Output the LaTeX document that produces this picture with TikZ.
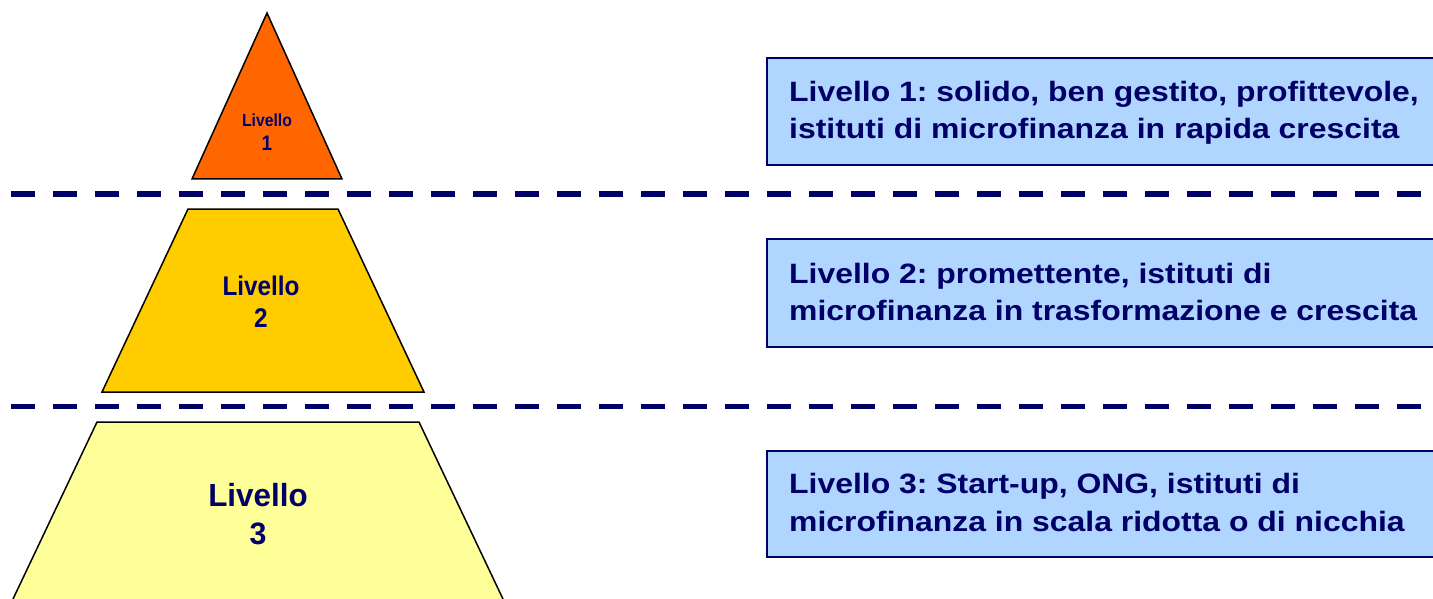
\documentclass[tikz,border=0pt]{standalone}
\usepackage{fontspec}
\newfontfamily\hvnarrow[FakeStretch=0.9]{Liberation Sans}
\newfontfamily\hvplain[FakeStretch=0.98]{Liberation Sans}
\newfontfamily\hvwide[FakeStretch=1.14]{Liberation Sans}
\definecolor{navy}{RGB}{0,0,102}
\definecolor{boxblue}{RGB}{176,214,255}
\definecolor{lvone}{RGB}{255,102,0}
\definecolor{lvtwo}{RGB}{255,204,0}
\definecolor{lvthree}{RGB}{255,255,153}
\tikzset{
  shapeline/.style={draw=black, line width=1.5pt, line join=miter},
  sep/.style={draw=navy, line width=5pt, dash pattern=on 24pt off 18pt},
  infobox/.style={draw=navy, line width=1.5pt, fill=boxblue},
  boxtxt/.style={anchor=base west, inner sep=0pt, text=navy, font=\frenchspacing\hvwide\bfseries\fontsize{28}{34}\selectfont},
  lvtxt/.style={anchor=base, inner sep=0pt, text=navy},
}
\begin{document}
\begin{tikzpicture}[x=1pt,y=-1pt]
\useasboundingbox (0,0) rectangle (1433,599);
% pyramid
\filldraw[shapeline, fill=lvone] (267,13) -- (342,179) -- (192,179) -- cycle;
\filldraw[shapeline, fill=lvtwo] (188,209) -- (338,209) -- (424,392) -- (102,392) -- cycle;
\filldraw[shapeline, fill=lvthree] (97,422) -- (419,422) -- (508.2,610) -- (7.8,610) -- cycle;
\node[lvtxt, font=\hvnarrow\bfseries\fontsize{17.5}{20}\selectfont] (t1a) at (267,127) {Livello};
\node[lvtxt, font=\hvnarrow\bfseries\fontsize{21}{24}\selectfont] (t1b) at (267,151) {1};
\node[lvtxt, font=\hvnarrow\bfseries\fontsize{27}{30}\selectfont] (t2a) at (261,295) {Livello};
\node[lvtxt, font=\hvnarrow\bfseries\fontsize{27}{30}\selectfont] (t2b) at (261,327) {2};
\node[lvtxt, font=\hvplain\bfseries\fontsize{32}{36}\selectfont] (t3a) at (258,506) {Livello};
\node[lvtxt, font=\hvplain\bfseries\fontsize{31}{36}\selectfont] (t3b) at (258,544) {3};
% separators
\coordinate (s1a) at (11,194); \coordinate (s1b) at (1421,194);
\coordinate (s2a) at (11,406); \coordinate (s2b) at (1421,406);
\draw[sep] (s1a) -- (s1b);
\draw[sep] (s2a) -- (s2b);
% boxes
\draw[infobox] (767,58) rectangle (1445,165);
\draw[infobox] (767,239) rectangle (1445,347);
\draw[infobox] (767,451) rectangle (1445,557);
\node[boxtxt] (b1a) at (789,102) {Livello 1: solido, ben gestito, profittevole,};
\node[boxtxt] (b1b) at (789,139) {istituti di microfinanza in rapida crescita};
\node[boxtxt] (b2a) at (789,283) {Livello 2: promettente, istituti di};
\node[boxtxt] (b2b) at (789,320) {microfinanza in trasformazione e crescita};
\node[boxtxt] (b3a) at (789,493) {Livello 3: Start-up, ONG, istituti di};
\node[boxtxt] (b3b) at (789,531) {microfinanza in scala ridotta o di nicchia};
\end{tikzpicture}
\end{document}
